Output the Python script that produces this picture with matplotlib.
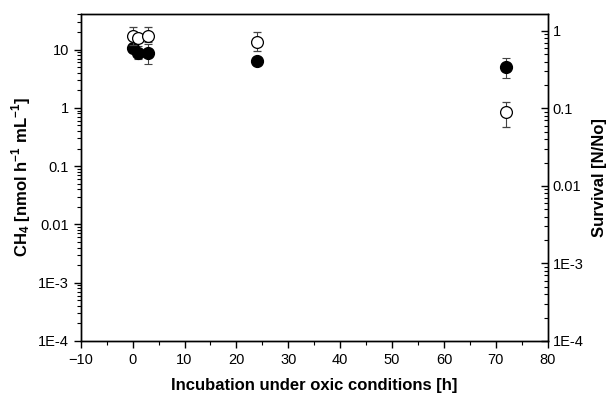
import matplotlib
matplotlib.use("Agg")
import matplotlib.pyplot as plt
from matplotlib.ticker import LogLocator, FixedLocator, MultipleLocator, FuncFormatter

plt.rcParams['font.family'] = ['Liberation Sans', 'DejaVu Sans']
plt.rcParams['mathtext.fontset'] = 'custom'
plt.rcParams['mathtext.rm'] = 'Liberation Sans'
plt.rcParams['mathtext.bf'] = 'Liberation Sans:bold'

# Data
hours = [0, 1, 3, 24, 72]
ch4 = [10.7, 8.8, 8.6, 6.3, 5.1]
ch4_err_low = [1.5, 1.8, 3.0, 0.0, 1.9]
ch4_err_high = [1.5, 2.5, 4.0, 0.0, 2.0]
survival = [0.86, 0.82, 0.86, 0.72, 0.09]
surv_err_low = [0.20, 0.10, 0.15, 0.17, 0.032]
surv_err_high = [0.28, 0.10, 0.28, 0.25, 0.03]

left_ticks = [1e-4, 1e-3, 0.01, 0.1, 1, 10]
left_labels = ['1E-4', '1E-3', '0.01', '0.1', '1', '10']
right_ticks = [1e-4, 1e-3, 0.01, 0.1, 1]
right_labels = ['1E-4', '1E-3', '0.01', '0.1', '1']

fig = plt.figure(figsize=(6.12, 3.96), dpi=100)
ax = fig.add_axes([0.132, 0.139, 0.763, 0.826])
ax2 = ax.twinx()

ax.errorbar(hours, ch4, yerr=[ch4_err_low, ch4_err_high], fmt='o', color='black',
            mfc='black', mec='black', ms=8.5, ecolor='#444444', elinewidth=0.8,
            capsize=3, capthick=0.8, zorder=3)
ax2.errorbar(hours, survival, yerr=[surv_err_low, surv_err_high], fmt='o', color='black',
             mfc='white', mec='black', mew=0.9, ms=8.5, ecolor='#444444', elinewidth=0.8,
             capsize=3, capthick=0.8, zorder=3)

ax.set_yscale('log')
ax.set_ylim(1e-4, 41)
ax2.set_yscale('log')
ax2.set_ylim(1e-4, 1.66)
ax.set_xlim(-10, 80)

ax.xaxis.set_major_locator(MultipleLocator(10))
ax.xaxis.set_minor_locator(MultipleLocator(5))
ax.xaxis.set_major_formatter(FuncFormatter(lambda v, p: ('\u2212%d' % -v) if v < 0 else '%d' % v))

ax.yaxis.set_major_locator(FixedLocator(left_ticks))
ax.set_yticklabels(left_labels)
ax.yaxis.set_minor_locator(LogLocator(base=10, subs=range(2, 10), numticks=20))
ax2.yaxis.set_major_locator(FixedLocator(right_ticks))
ax2.set_yticklabels(right_labels)
ax2.yaxis.set_minor_locator(LogLocator(base=10, subs=range(2, 10), numticks=20))

for a in (ax, ax2):
    for s in a.spines.values():
        s.set_linewidth(1.0)
ax.tick_params(axis='both', which='major', direction='out', length=5, width=1.0, labelsize=10.5)
ax.tick_params(axis='both', which='minor', direction='out', length=3, width=0.8)
ax.tick_params(axis='x', top=False, which='both')
ax2.tick_params(axis='y', which='major', direction='in', length=5, width=1.0, labelsize=10.5)
ax2.tick_params(axis='y', which='minor', direction='in', length=3, width=0.8)

ax.set_xlabel('Incubation under oxic conditions [h]', fontsize=12, fontweight='bold', labelpad=8)
ax.set_ylabel(r'$\mathbf{CH_4}$ [nmol h$^{\mathbf{-1}}$ mL$^{\mathbf{-1}}$]', fontsize=12, fontweight='bold')
ax2.set_ylabel('Survival [N/No]', fontsize=12, fontweight='bold', labelpad=6)

fig.savefig('out.png', dpi=100)
